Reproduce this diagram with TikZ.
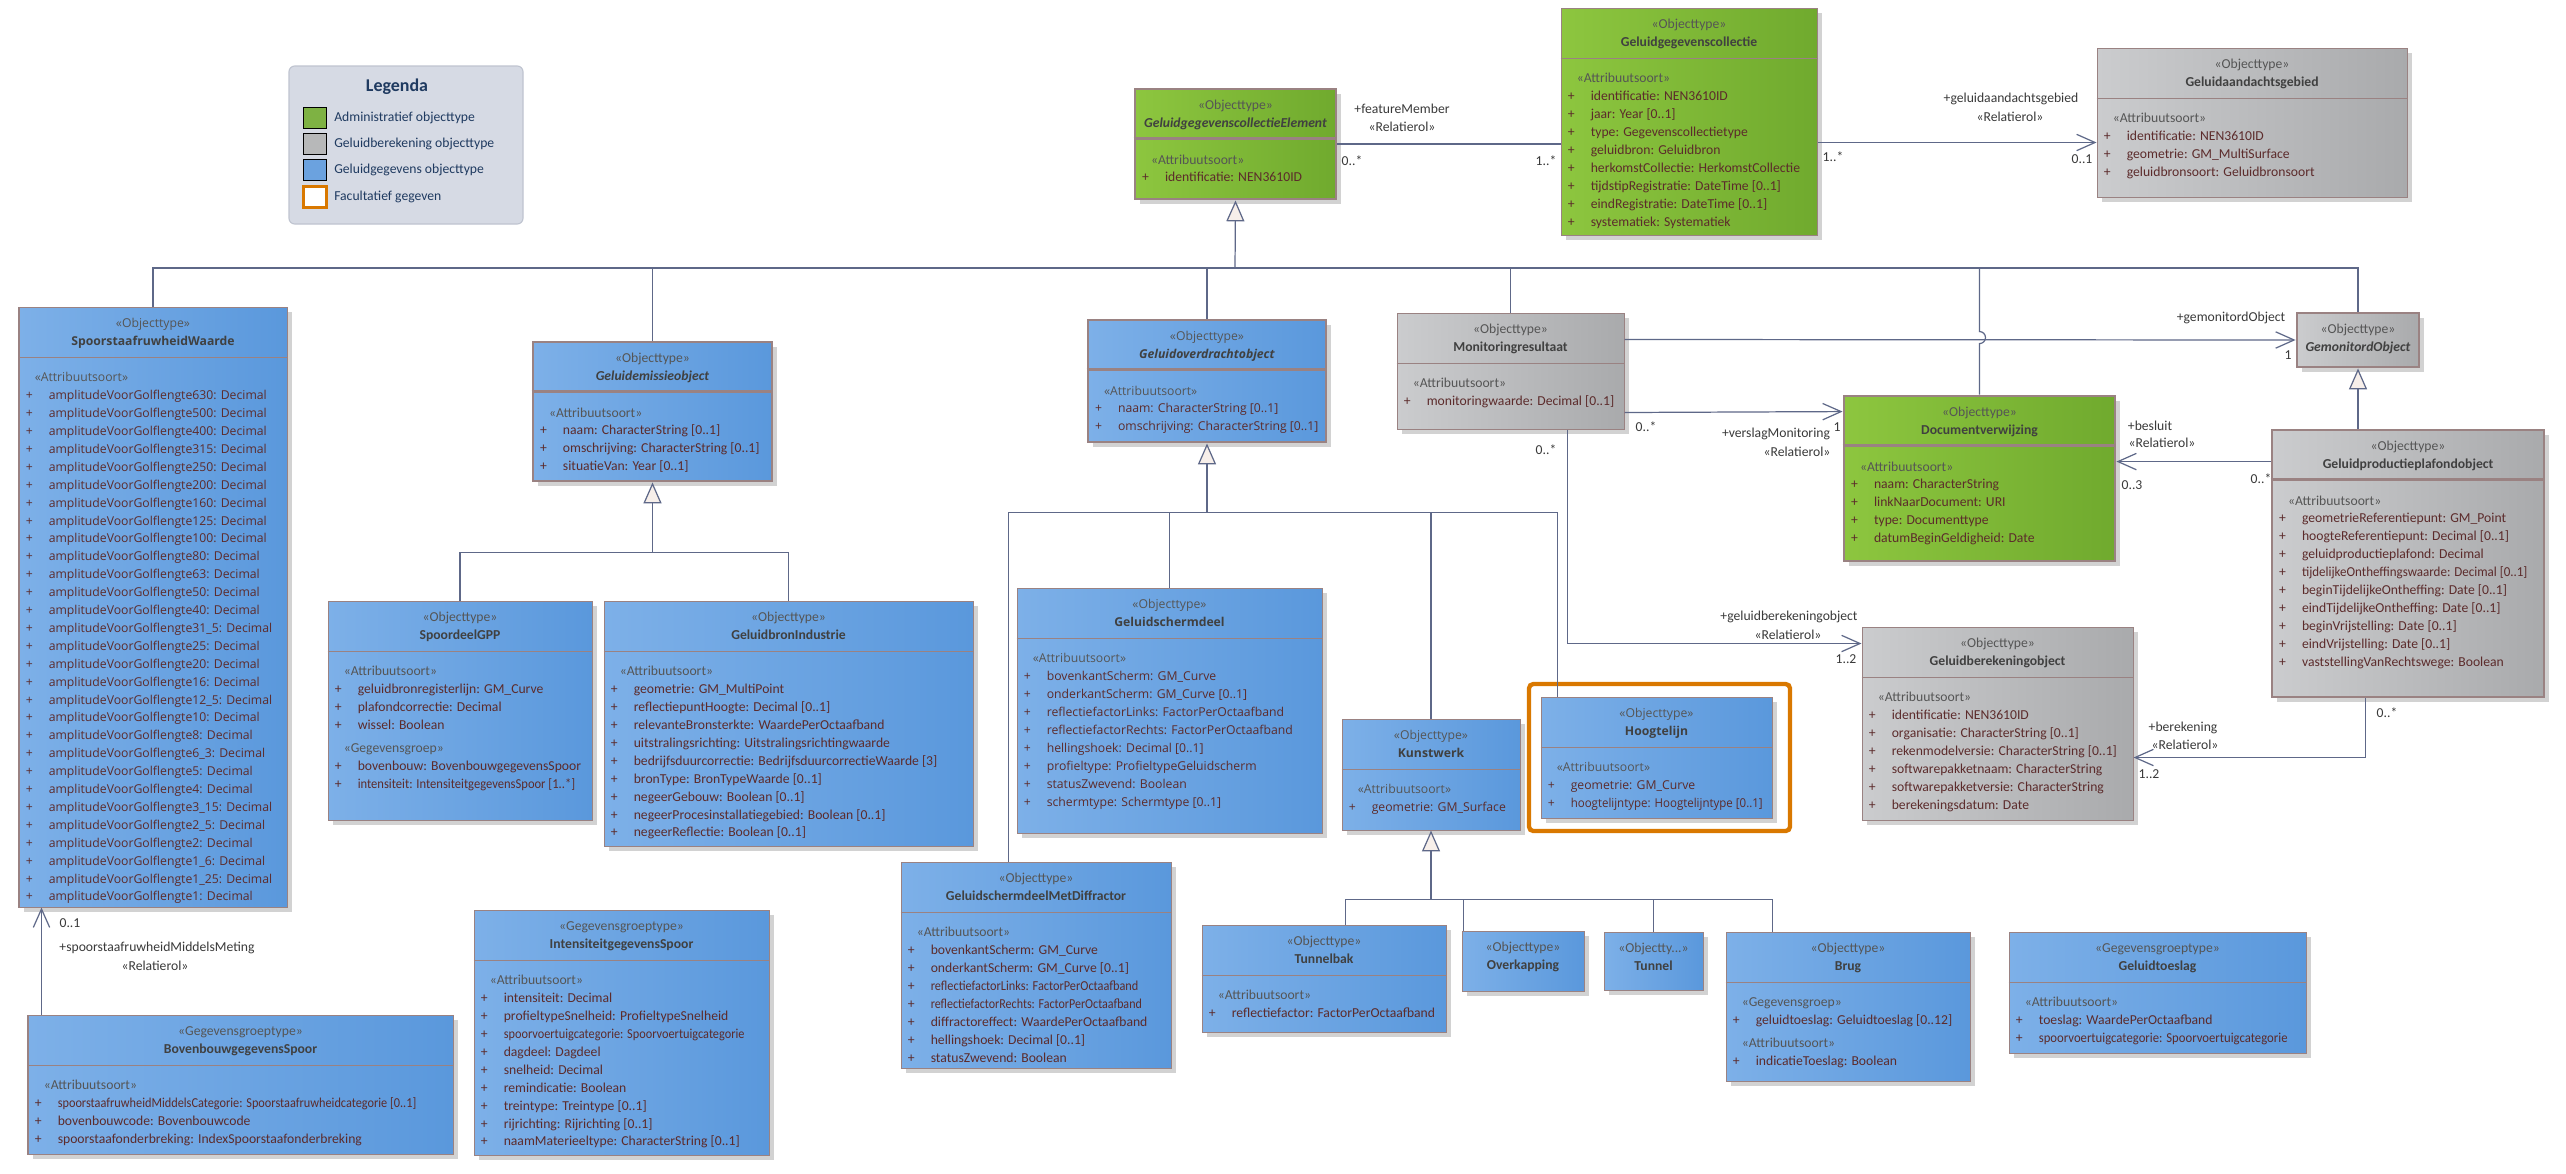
\documentclass[tikz,border=0pt]{standalone}
\usepackage{fontspec}
\setmainfont{Carlito}
\newfontfamily\widefont{Open Sans}
\usepackage{graphicx}
\usetikzlibrary{arrows.meta, calc, fit, shadows}
\definecolor{blueL}{HTML}{7DB0E8}
\definecolor{blueR}{HTML}{5A98DC}
\definecolor{greenL}{HTML}{8DC63F}
\definecolor{greenR}{HTML}{70AA2E}
\definecolor{greyL}{HTML}{CBCCCE}
\definecolor{greyR}{HTML}{A9AAAC}
\definecolor{edge}{HTML}{9A8282}
\definecolor{wire}{HTML}{5E6888}
\definecolor{tri}{HTML}{F7EFEA}
\definecolor{shade}{HTML}{D2D2D2}
\definecolor{attC}{HTML}{5C2B2B}
\definecolor{stC}{HTML}{555555}
\definecolor{titleC}{HTML}{404040}
\definecolor{lblC}{HTML}{3A3A3A}
\definecolor{legbg}{HTML}{D6DAE4}
\definecolor{legedge}{HTML}{BFC4D0}
\definecolor{navy}{HTML}{1F3A60}
\definecolor{facorange}{HTML}{D97800}

\newcommand\umlfont{\fontsize{9.5}{12.45}\selectfont}
\newcommand\pp[1]{\makebox[0.562cm][l]{+}#1}
\newcommand\st[1]{\hspace*{0.22cm}\textcolor{stC}{«#1»}}
\newcommand\squeeze[2][0.93]{\scalebox{#1}[1]{#2}}
\newcommand\amp[1]{\pp{amplitudeVoorGolflengte#1: Decimal}}

% class box with header and one body compartment
\newcommand\umlbox[8][]{%
  \node[cls, #3, fit={#4 #5}, #1] (#2) {};
  \draw[sepline, #1] ($(#2.north west)+(0,51)$) -- ($(#2.north east)+(0,51)$);
  \node[hdr, #1] (#2h) at ($(#2.north)+(0,8)$) {\strut\textcolor{stC}{«#6»}\\\textbf{#7}};
  \node[body, #1] (#2b) at ($(#2.north west)+(7,62.5)$) {\strut#8};
}
% class box with header only
\newcommand\umlhead[7][]{%
  \node[cls, #3, fit={#4 #5}, #1] (#2) {};
  \node[hdr, #1] (#2h) at ($(#2.north)+(0,8)$) {\strut\textcolor{stC}{«#6»}\\\textbf{#7}};
}

\begin{document}
\begin{tikzpicture}[x=0.02444cm, y=-0.02444cm,
   cls/.style={rectangle, inner sep=0, draw=edge, line width=0.7pt,
     drop shadow={shadow xshift=0.11cm, shadow yshift=-0.11cm, fill=shade, opacity=1}},
   blueobj/.style={left color=blueL, right color=blueR},
   greenobj/.style={left color=greenL, right color=greenR},
   greyobj/.style={left color=greyL, right color=greyR},
   heavy/.style={line width=2pt},
   wide/.style={font=\widefont\fontsize{8.5}{12.45}\selectfont},
   hdr/.style={anchor=north, align=center, inner sep=0, font=\umlfont, text=titleC},
   body/.style={anchor=north west, align=left, inner sep=0, font=\umlfont, text=attC},
   sepline/.style={draw=edge, line width=0.7pt},
   conn/.style={draw=wire, line width=0.85pt},
   gen/.style={conn, -{Triangle[length=0.51cm, width=0.44cm, fill=tri]}},
   assoc/.style={conn, -{Straight Barb[length=0.45cm, width=0.4cm]}},
   lbl/.style={font=\umlfont, text=lblC, inner sep=0},
   legendbox/.style={rectangle, inner sep=0, draw=legedge, fill=legbg, rounded corners=4pt, line width=0.8pt},
   swatch/.style={rectangle, inner sep=0, minimum width=0.55cm, minimum height=0.53cm, draw=black, line width=0.8pt},
   swgreen/.style={fill=greenR!90!white},
   swgrey/.style={fill=greyL!90!black},
   swblue/.style={fill=blueR!90!white},
   swfac/.style={fill=white, draw=facorange, line width=2pt},
   facult/.style={rectangle, inner sep=0, draw=facorange, line width=3pt, rounded corners=3pt, fill=white}]
 \fill[white] (0,0) rectangle (2566,1173);
 \useasboundingbox (0,0) rectangle (2566,1173);

 % legend
 \node[legendbox, fit={(289,66) (523,224)}] (lgnd) {};
 \node[font=\fontsize{12.5}{14}\selectfont\bfseries, text=navy, inner sep=0] (lgndt) at (397,87) {Legenda};
 \foreach \s/\t/\y [count=\i] in {swgreen/Administratief objecttype/118, swgrey/Geluidberekening objecttype/144,
     swblue/Geluidgegevens objecttype/170, swfac/Facultatief gegeven/197} {
   \node[swatch, \s] (sw\i) at (315,\y) {};
   \node[anchor=west, font=\umlfont, text=navy, inner sep=0] (lt\i) at (334,\y) {\t};
 }

 % administrative part
 \umlbox[heavy]{ggce}{greenobj}{(1135,89)}{(1336,199)}{Objecttype}{\textit{GeluidgegevenscollectieElement}}
   {\st{Attribuutsoort}\\\pp{identificatie: NEN3610ID}}
 \umlbox{ggc}{greenobj}{(1561,8)}{(1817,235)}{Objecttype}{Geluidgegevenscollectie}
   {\st{Attribuutsoort}\\\pp{identificatie: NEN3610ID}\\\pp{jaar: Year [0..1]}\\\pp{type: Gegevenscollectietype}\\
    \pp{geluidbron: Geluidbron}\\\pp{herkomstCollectie: HerkomstCollectie}\\\pp{tijdstipRegistratie: DateTime [0..1]}\\
    \pp{eindRegistratie: DateTime [0..1]}\\\pp{systematiek: Systematiek}}
 \umlbox{gag}{greyobj}{(2097,48)}{(2407,197)}{Objecttype}{Geluidaandachtsgebied}
   {\st{Attribuutsoort}\\\pp{identificatie: NEN3610ID}\\\pp{geometrie: GM\_MultiSurface}\\\pp{geluidbronsoort: Geluidbronsoort}}

 % rail roughness
 \umlbox[wide]{srw}{blueobj}{(19,307)}{(287,907)}{Objecttype}{SpoorstaafruwheidWaarde}
   {\st{Attribuutsoort}\\\amp{630}\\\amp{500}\\\amp{400}\\\amp{315}\\\amp{250}\\\amp{200}\\\amp{160}\\\amp{125}\\
    \amp{100}\\\amp{80}\\\amp{63}\\\amp{50}\\\amp{40}\\\amp{31\_5}\\\amp{25}\\\amp{20}\\\amp{16}\\\amp{12\_5}\\
    \amp{10}\\\amp{8}\\\amp{6\_3}\\\amp{5}\\\amp{4}\\\amp{3\_15}\\\amp{2\_5}\\\amp{2}\\\amp{1\_6}\\\amp{1\_25}\\\amp{1}}
 \umlbox{bbs}{blueobj}{(28,1015)}{(453,1154)}{Gegevensgroeptype}{BovenbouwgegevensSpoor}
   {\st{Attribuutsoort}\\\pp{\squeeze[0.9]{spoorstaafruwheidMiddelsCategorie: Spoorstaafruwheidcategorie [0..1]}}\\
    \pp{bovenbouwcode: Bovenbouwcode}\\\pp{spoorstaafonderbreking: IndexSpoorstaafonderbreking}}
 \umlbox{igs}{blueobj}{(474,910)}{(769,1155)}{Gegevensgroeptype}{IntensiteitgegevensSpoor}
   {\st{Attribuutsoort}\\\pp{intensiteit: Decimal}\\\pp{profieltypeSnelheid: ProfieltypeSnelheid}\\
    \pp{\squeeze[0.9]{spoorvoertuigcategorie: Spoorvoertuigcategorie}}\\\pp{dagdeel: Dagdeel}\\\pp{snelheid: Decimal}\\
    \pp{remindicatie: Boolean}\\\pp{treintype: Treintype [0..1]}\\\pp{rijrichting: Rijrichting [0..1]}\\
    \pp{naamMaterieeltype: CharacterString [0..1]}}

 % emission objects
 \umlbox[heavy]{geo}{blueobj}{(533,342)}{(772,481)}{Objecttype}{\textit{Geluidemissieobject}}
   {\st{Attribuutsoort}\\\pp{naam: CharacterString [0..1]}\\\pp{omschrijving: CharacterString [0..1]}\\\pp{situatieVan: Year [0..1]}}
 \umlbox{sgpp}{blueobj}{(328,601)}{(592,820)}{Objecttype}{SpoordeelGPP}
   {\st{Attribuutsoort}\\\pp{geluidbronregisterlijn: GM\_Curve}\\\pp{plafondcorrectie: Decimal}\\\pp{wissel: Boolean}\\[0.12cm]
    \st{Gegevensgroep}\\\pp{bovenbouw: BovenbouwgegevensSpoor}\\\pp{\squeeze[0.92]{intensiteit: IntensiteitgegevensSpoor [1..*]}}}
 \umlbox{gbi}{blueobj}{(604,601)}{(973,846)}{Objecttype}{GeluidbronIndustrie}
   {\st{Attribuutsoort}\\\pp{geometrie: GM\_MultiPoint}\\\pp{reflectiepuntHoogte: Decimal [0..1]}\\
    \pp{relevanteBronsterkte: WaardePerOctaafband}\\\pp{uitstralingsrichting: Uitstralingsrichtingwaarde}\\
    \pp{bedrijfsduurcorrectie: BedrijfsduurcorrectieWaarde [3]}\\\pp{bronType: BronTypeWaarde [0..1]}\\
    \pp{negeerGebouw: Boolean [0..1]}\\\pp{negeerProcesinstallatiegebied: Boolean [0..1]}\\\pp{negeerReflectie: Boolean [0..1]}}

 % transfer objects
 \umlbox[heavy, wide]{gov}{blueobj}{(1088,320)}{(1326,442)}{Objecttype}{\textit{Geluidoverdrachtobject}}
   {\st{Attribuutsoort}\\\pp{naam: CharacterString [0..1]}\\\pp{omschrijving: CharacterString [0..1]}}
 \umlbox[wide]{gsd}{blueobj}{(1017,588)}{(1322,833)}{Objecttype}{Geluidschermdeel}
   {\st{Attribuutsoort}\\\pp{bovenkantScherm: GM\_Curve}\\\pp{onderkantScherm: GM\_Curve [0..1]}\\
    \pp{reflectiefactorLinks: FactorPerOctaafband}\\\pp{reflectiefactorRechts: FactorPerOctaafband}\\
    \pp{hellingshoek: Decimal [0..1]}\\\pp{profieltype: ProfieltypeGeluidscherm}\\\pp{statusZwevend: Boolean}\\
    \pp{schermtype: Schermtype [0..1]}}
 \umlbox{gsmd}{blueobj}{(901,862)}{(1171,1068)}{Objecttype}{GeluidschermdeelMetDiffractor}
   {\st{Attribuutsoort}\\\pp{bovenkantScherm: GM\_Curve}\\\pp{onderkantScherm: GM\_Curve [0..1]}\\
    \pp{\squeeze[0.9]{reflectiefactorLinks: FactorPerOctaafband}}\\\pp{\squeeze[0.88]{reflectiefactorRechts: FactorPerOctaafband}}\\
    \pp{diffractoreffect: WaardePerOctaafband}\\\pp{hellingshoek: Decimal [0..1]}\\\pp{statusZwevend: Boolean}}
 \umlbox[wide]{kw}{blueobj}{(1342,719)}{(1520,830)}{Objecttype}{Kunstwerk}
   {\st{Attribuutsoort}\\\pp{geometrie: GM\_Surface}}
 \node[facult, fit={(1529,684) (1790,831)}] (hlframe) {};
 \umlbox[wide]{hl}{blueobj}{(1541,697)}{(1772,818)}{Objecttype}{Hoogtelijn}
   {\st{Attribuutsoort}\\\pp{geometrie: GM\_Curve}\\\pp{\squeeze[0.94]{hoogtelijntype: Hoogtelijntype [0..1]}}}
 \umlbox{tb}{blueobj}{(1202,925)}{(1446,1032)}{Objecttype}{Tunnelbak}
   {\st{Attribuutsoort}\\\pp{reflectiefactor: FactorPerOctaafband}}
 \umlhead{ovk}{blueobj}{(1462,931)}{(1584,991)}{Objecttype}{Overkapping}
 \umlhead{tnl}{blueobj}{(1604,932)}{(1703,990)}{Objectty...}{Tunnel}
 \umlbox{brug}{blueobj}{(1726,932)}{(1970,1081)}{Objecttype}{Brug}
   {\st{Gegevensgroep}\\\pp{geluidtoeslag: Geluidtoeslag [0..12]}\\[0.12cm]\st{Attribuutsoort}\\\pp{indicatieToeslag: Boolean}}
 \umlbox{gts}{blueobj}{(2009,932)}{(2306,1053)}{Gegevensgroeptype}{Geluidtoeslag}
   {\st{Attribuutsoort}\\\pp{toeslag: WaardePerOctaafband}\\\pp{\squeeze[0.93]{spoorvoertuigcategorie: Spoorvoertuigcategorie}}}

 % monitoring and calculation
 \umlbox{mon}{greyobj}{(1397,313)}{(1624,429)}{Objecttype}{Monitoringresultaat}
   {\st{Attribuutsoort}\\\pp{monitoringwaarde: Decimal [0..1]}}
 \umlhead[heavy]{gmo}{greyobj}{(2297,313)}{(2419,367)}{Objecttype}{\textit{GemonitordObject}}
 \umlbox[heavy]{doc}{greenobj}{(1844,396)}{(2115,561)}{Objecttype}{Documentverwijzing}
   {\st{Attribuutsoort}\\\pp{naam: CharacterString}\\\pp{linkNaarDocument: URI}\\\pp{type: Documenttype}\\
    \pp{datumBeginGeldigheid: Date}}
 \umlbox[heavy]{gpp}{greyobj}{(2272,430)}{(2544,697)}{Objecttype}{Geluidproductieplafondobject}
   {\st{Attribuutsoort}\\\pp{geometrieReferentiepunt: GM\_Point}\\\pp{hoogteReferentiepunt: Decimal [0..1]}\\
    \pp{geluidproductieplafond: Decimal}\\\pp{\squeeze[0.95]{tijdelijkeOntheffingswaarde: Decimal [0..1]}}\\
    \pp{beginTijdelijkeOntheffing: Date [0..1]}\\\pp{eindTijdelijkeOntheffing: Date [0..1]}\\
    \pp{beginVrijstelling: Date [0..1]}\\\pp{eindVrijstelling: Date [0..1]}\\\pp{vaststellingVanRechtswege: Boolean}}
 \umlbox{gbo}{greyobj}{(1862,627)}{(2133,820)}{Objecttype}{Geluidberekeningobject}
   {\st{Attribuutsoort}\\\pp{identificatie: NEN3610ID}\\\pp{organisatie: CharacterString [0..1]}\\
    \pp{rekenmodelversie: CharacterString [0..1]}\\\pp{softwarepakketnaam: CharacterString}\\
    \pp{softwarepakketversie: CharacterString}\\\pp{berekeningsdatum: Date}}

 % generalisations
 \coordinate (bus) at (1235,268);
 \draw[gen] (bus) -- (ggce.south);
 \foreach \n in {srw, geo, gov, mon, gmo} \draw[conn] (\n.north) |- (bus);
 \draw[conn] (doc.north) -- ++(0,-51) arc[start angle=90, end angle=-90, radius=6] |- (bus);
 \coordinate (geoj) at ($(geo.south)+(0,70)$);
 \draw[gen] (geoj) -- (geo.south);
 \draw[conn] (sgpp.north) |- (geoj);
 \draw[conn] (gbi.north) |- (geoj);
 \coordinate (govj) at ($(gov.south)+(0,69)$);
 \draw[gen] (govj) -- (gov.south);
 \draw[conn] ($(gsmd.north west)+(108,0)$) |- (govj);
 \draw[conn] (gsd.north) |- (govj);
 \draw[conn] (kw.north) |- (govj);
 \draw[conn] ($(hl.north west)+(17,0)$) |- (govj);
 \coordinate (kwj) at ($(kw.south)+(0,69)$);
 \draw[gen] (kwj) -- (kw.south);
 \draw[conn] ($(tb.north west)+(144,0)$) |- (kwj);
 \draw[conn] ($(ovk.north west)+(2,0)$) |- (kwj);
 \draw[conn] (tnl.north) |- (kwj);
 \draw[conn] ($(brug.north west)+(47,0)$) |- (kwj);
 \draw[gen] (gpp.north -| gmo.south) -- (gmo.south);

 % associations
 \draw[conn] (ggce.east) -- (ggce.east -| ggc.west);
 \draw[assoc] ($(ggc.north east)+(0,135)$) -- ($(gag.north west)+(0,95)$);
 \draw[assoc] ($(bbs.north west)+(14,0)$) -- ($(srw.south west)+(23,0)$);
 \draw[assoc] ($(mon.north east)+(0,27)$) -- (gmo.west);
 \draw[assoc] ($(mon.north east)+(0,100)$) -- ($(doc.north west)+(0,17)$);
 \draw[assoc] ($(mon.south west)+(171,0)$) |- ($(gbo.north west)+(0,17)$);
 \draw[assoc] ($(gpp.north west)+(0,33)$) -- ($(doc.north east)+(0,67)$);
 \draw[assoc] ($(gpp.south west)+(95,0)$) |- ($(gbo.north east)+(0,131)$);

 % role names and multiplicities
 \foreach \p/\t [count=\i] in {
   {(1402,109)}/+featureMember, {(1402,127)}/«Relatierol», {(1352,161)}/0..*, {(1546,161)}/1..*,
   {(1833,157)}/1..*, {(2011,99)}/+geluidaandachtsgebied, {(2010,117)}/«Relatierol», {(2082,159)}/0..1,
   {(70,923)}/0..1, {(157,948)}/+spoorstaafruwheidMiddelsMeting, {(155,966)}/«Relatierol»,
   {(2231,318)}/+gemonitordObject, {(2288,355)}/1,
   {(1646,427)}/0..*, {(1776,434)}/+verslagMonitoring, {(1837,427)}/1, {(1797,452)}/«Relatierol»,
   {(1546,450)}/0..*, {(1789,617)}/+geluidberekeningobject, {(1788,635)}/«Relatierol», {(1846,659)}/1..2,
   {(2150,426)}/+besluit, {(2162,443)}/«Relatierol», {(2132,485)}/0..3, {(2261,479)}/0..*,
   {(2387,713)}/0..*, {(2183,728)}/+berekening, {(2185,745)}/«Relatierol», {(2149,774)}/1..2}
   \node[lbl] (l\i) at \p {\t};
\end{tikzpicture}
\end{document}
